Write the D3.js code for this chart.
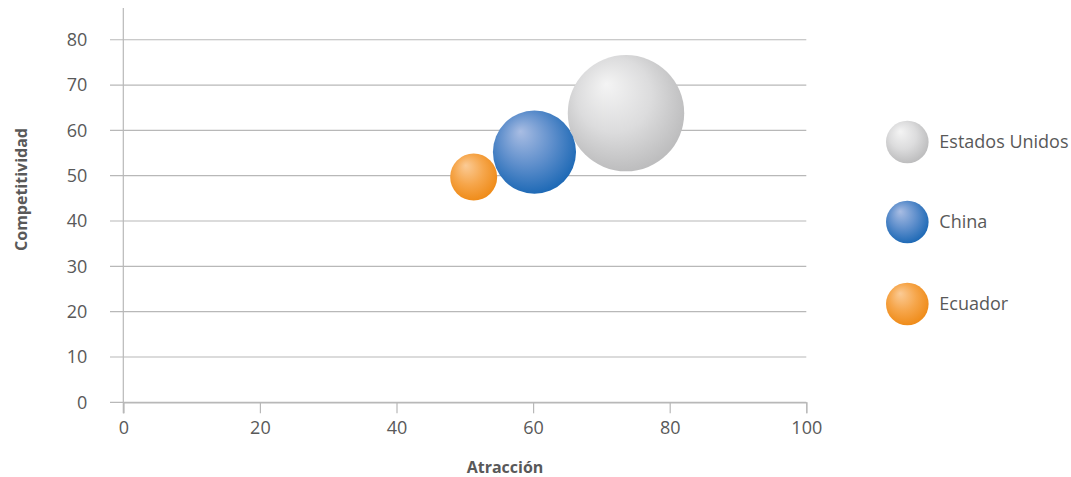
<!DOCTYPE html>
<html>
<head>
<meta charset="utf-8">
<script src="https://cdn.jsdelivr.net/npm/d3@7"></script>
<style>
html,body{margin:0;padding:0;background:#fff;}
svg{display:block;}
text{font-family:"Open Sans",sans-serif;fill:#595959;}
</style>
</head>
<body>
<svg id="chart" width="1071" height="477"></svg>
<script>
const countries = ["Estados Unidos", "China", "Ecuador"];
const attraction = [73.6, 60.2, 51.3];
const competitiveness = [63.8, 55.2, 49.7];
const bubbleSize = [100, 51, 16.3];
const xTicks = [0, 20, 40, 60, 80, 100];
const yTicks = [0, 10, 20, 30, 40, 50, 60, 70, 80];
const xTitle = "Atracción";
const yTitle = "Competitividad";

const palette = [
  {hi: "#f4f4f4", mid: "#dcdcdd", lo: "#bdbdbe"},
  {hi: "#a9bde3", mid: "#5f8fcc", lo: "#1f6ab6"},
  {hi: "#fbcb96", mid: "#f6a64b", lo: "#ef8c1a"}
];

const svg = d3.select("#chart");
const x = d3.scaleLinear().domain([0, 100]).range([123.3, 806.3]);
const y = d3.scaleLinear().domain([0, 87]).range([402.3, 8]);
const r = d3.scaleSqrt().domain([0, d3.max(bubbleSize)]).range([0, 58.2]);

const defs = svg.append("defs");
palette.forEach((p, i) => {
  const g = defs.append("radialGradient").attr("id", "g" + i)
    .attr("cx", "45%").attr("cy", "42%").attr("r", "58%")
    .attr("fx", "33%").attr("fy", "25%");
  g.append("stop").attr("offset", "0%").attr("stop-color", p.hi);
  g.append("stop").attr("offset", "55%").attr("stop-color", p.mid);
  g.append("stop").attr("offset", "100%").attr("stop-color", p.lo);
});

// gridlines
svg.append("g").selectAll("line").data(yTicks).join("line")
  .attr("x1", 110).attr("x2", x(100))
  .attr("y1", d => y(d)).attr("y2", d => y(d))
  .attr("stroke", "#b8b8b8").attr("stroke-width", 1.2);

// y axis line
svg.append("line").attr("x1", x(0)).attr("x2", x(0))
  .attr("y1", y(87)).attr("y2", y(0) + 11)
  .attr("stroke", "#b8b8b8").attr("stroke-width", 1.2);

// x axis
const xAxis = d3.axisBottom(x).tickValues(xTicks).tickSize(11).tickPadding(8).tickFormat(d3.format("d"));
const gx = svg.append("g").attr("transform", `translate(0,${y(0)})`).call(xAxis);
gx.select(".domain").attr("stroke", "#b8b8b8").attr("stroke-width", 1.2);
gx.selectAll(".tick line").attr("stroke", "#b8b8b8").attr("stroke-width", 1.2);
gx.selectAll(".tick text").attr("font-size", 18).attr("font-family", "Open Sans").attr("fill", "#595959");

// y labels
const yAxis = d3.axisLeft(y).tickValues(yTicks).tickSize(0).tickPadding(36).tickFormat(d3.format("d"));
const gy = svg.append("g").attr("transform", `translate(${x(0)},0)`).call(yAxis);
gy.select(".domain").remove();
gy.selectAll(".tick text").attr("font-size", 18).attr("font-family", "Open Sans").attr("fill", "#595959");

// bubbles
const idx = d3.range(countries.length);
svg.append("g").selectAll("circle").data(idx).join("circle")
  .attr("cx", i => x(attraction[i]))
  .attr("cy", i => y(competitiveness[i]))
  .attr("r", i => r(bubbleSize[i]))
  .attr("fill", i => `url(#g${i})`);

// axis titles
svg.append("text").attr("x", 505).attr("y", 473).attr("text-anchor", "middle")
  .attr("font-size", 16).attr("font-weight", "bold").text(xTitle);
svg.append("text").attr("transform", "translate(27,189.5) rotate(-90)").attr("text-anchor", "middle")
  .attr("font-size", 16).attr("font-weight", "bold").text(yTitle);

// legend
const legY = [142, 222, 304];
const leg = svg.append("g").selectAll("g").data(idx).join("g")
  .attr("transform", i => `translate(907.3,${legY[i]})`);
leg.append("circle").attr("r", 21.3).attr("fill", i => `url(#g${i})`);
leg.append("text").attr("x", 32).attr("dy", "0.35em").attr("font-size", 18).text(i => countries[i]);
</script>
</body>
</html>
